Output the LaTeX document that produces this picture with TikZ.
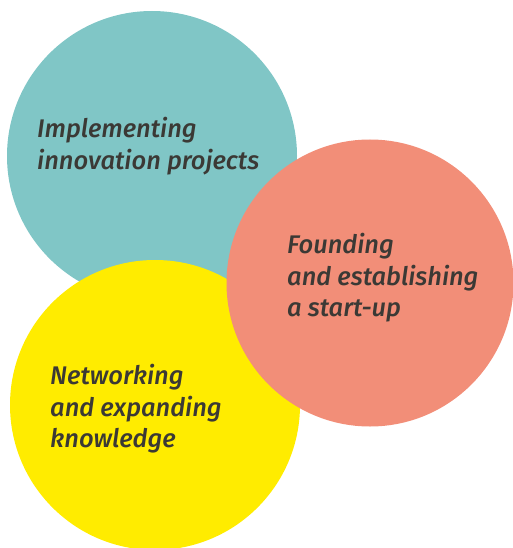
\documentclass[tikz,border=0pt]{standalone}
\usepackage{fontspec}
\setmainfont{Fira Sans}
\newfontfamily\handfont{Fira Sans Medium}[ItalicFont={Fira Sans Medium Italic}]
\usepackage{tikz}

\definecolor{tealc}{HTML}{80C6C6}
\definecolor{salmonc}{HTML}{F28E78}
\definecolor{yellowc}{HTML}{FFEC00}
\definecolor{inkc}{HTML}{3B3935}

\begin{document}
\begin{tikzpicture}[x=1pt,y=-1pt]
	\tikzstyle{disc}=[circle,inner sep=0pt,minimum size=290pt]
	\tikzstyle{lbl}=[anchor=north west,align=left,inner sep=0pt,text=inkc,
		font=\handfont\fontsize{25.5}{31.5}\selectfont\itshape]
	
	\path[use as bounding box] (0,0) rectangle (513,548);
	
	\node[disc,fill=tealc] (innov) at (152,156) {};
	\node[disc,fill=yellowc] (network) at (155,405) {};
	\node[disc,fill=salmonc,minimum size=287pt] (startup) at (370,283) {};
	
	\node[lbl] (innovtxt) at (37,117) {Implementing\\innovation projects};
	\node[lbl] (startuptxt) at (287,233) {Founding\\and establishing\\a start-up};
	\node[lbl] (networktxt) at (50,364) {Networking\\and expanding\\knowledge};
	
\end{tikzpicture}
\end{document}
